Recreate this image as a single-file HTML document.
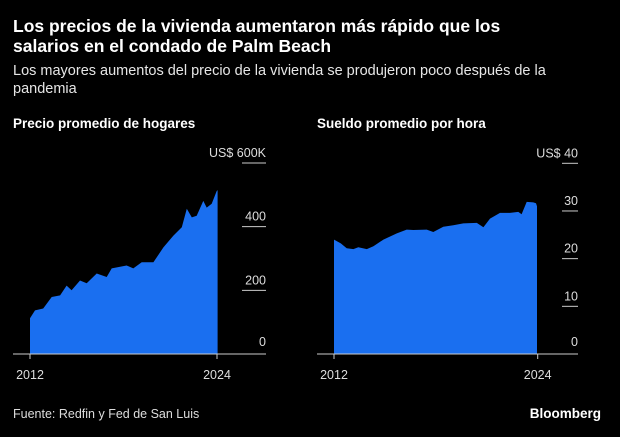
<!DOCTYPE html>
<html><head><meta charset="utf-8"><style>
body{margin:0;width:620px;height:437px;background:#000;overflow:hidden;font-family:"Liberation Sans",sans-serif;color:#fff}
.t{position:absolute;white-space:nowrap}
</style></head><body>
<div class="t" style="left:13px;top:16px;font-size:17.5px;font-weight:bold;line-height:20px">Los precios de la vivienda aumentaron más rápido que los<br>salarios en el condado de Palm Beach</div>
<div class="t" style="left:13px;top:62px;font-size:14.5px;line-height:18px;color:#e6e6e6">Los mayores aumentos del precio de la vivienda se produjeron poco después de la<br>pandemia</div>
<div class="t" style="left:13px;top:116px;font-size:13.5px;font-weight:bold">Precio promedio de hogares</div>
<div class="t" style="left:317px;top:116px;font-size:13.5px;font-weight:bold">Sueldo promedio por hora</div>
<div class="t" style="left:13px;top:407px;font-size:12.5px;color:#ddd">Fuente: Redfin y Fed de San Luis</div>
<div class="t" style="right:19px;top:406px;font-size:13.5px;font-weight:bold">Bloomberg</div>
<svg id="c" width="620" height="437" style="position:absolute;left:0;top:0"></svg>
<script>
const leftYears=[2012.0,2012.32,2012.85,2013.39,2013.93,2014.35,2014.67,2015.21,2015.64,2016.28,2016.92,2017.24,2018.2,2018.63,2019.17,2019.92,2020.56,2021.2,2021.74,2022.06,2022.38,2022.7,2023.12,2023.34,2023.66,2023.98,2024.04];
const leftValues=[112,137,143,179,184,215,200,231,222,253,242,269,278,269,288,288,335,372,398,456,429,434,481,460,472,512,515];
const leftTicks=[0,200,400,600];
const leftTickLabels=["0","200","400","US$ 600K"];
const rightYears=[2012.0,2012.4,2012.75,2013.14,2013.43,2013.93,2014.32,2014.91,2015.7,2016.28,2016.67,2017.46,2017.85,2018.44,2019.03,2019.62,2020.41,2020.8,2021.19,2021.78,2022.37,2022.86,2023.05,2023.35,2023.74,2023.9,2023.96];
const rightValues=[24.0,23.2,22.2,22.0,22.4,22.0,22.6,24.0,25.3,26.1,26.0,26.1,25.6,26.7,27.0,27.4,27.5,26.6,28.4,29.6,29.6,29.8,29.3,31.9,31.8,31.6,31.0];
const rightTicks=[0,10,20,30,40];
const rightTickLabels=["0","10","20","30","US$ 40"];
const xLabels=["2012","2024"];
const svg=document.getElementById('c');
const NS='http://www.w3.org/2000/svg';
function mk(t,a){const e=document.createElementNS(NS,t);for(const k in a)e.setAttribute(k,a[k]);svg.appendChild(e);return e;}
function panel(p,years,vals,ticks,labels,name){
  const x=y=>p.x0+(y-2012)*(p.x1-p.x0)/12;
  const y=v=>p.base-(v-ticks[0])*(p.base-p.top)/(ticks[ticks.length-1]-ticks[0]);
  let d='M'+x(years[0])+','+p.base;
  years.forEach((yr,i)=>{d+=' L'+x(yr).toFixed(1)+','+y(vals[i]).toFixed(1);});
  d+=' L'+x(years[years.length-1]).toFixed(1)+','+p.base+'Z';
  const a=mk('path',{d:d,fill:'#1a6ff0'});
  
  
  ticks.forEach((t,i)=>{
    if(i>0){const g=mk('line',{x1:p.tx0,x2:p.tx1,y1:y(t),y2:y(t),stroke:'#ccc','stroke-width':1});
    
    }
    const tx=mk('text',{x:p.tx1,y:y(t)-(i>0?6:8),'text-anchor':'end','font-size':12.5,fill:'#ddd','font-family':'Liberation Sans'});
    tx.textContent=labels[i];
    
    
  });
  const ax=mk('line',{x1:p.ax0,x2:p.tx1,y1:p.base,y2:p.base,stroke:'#ccc','stroke-width':1});
  
  
  [2012,2024].forEach((yr,i)=>{
    mk('line',{x1:x(yr),x2:x(yr),y1:p.base,y2:p.base+5,stroke:'#ccc'});
    const tx=mk('text',{x:x(yr),y:p.base+25,'text-anchor':'middle','font-size':12.5,fill:'#ddd','font-family':'Liberation Sans'});
    tx.textContent=xLabels[i];
    
    
  });
}
panel({x0:30,x1:217,base:354,top:163,tx0:242,tx1:266,ax0:13},leftYears,leftValues,leftTicks,leftTickLabels,'price');
panel({x0:334,x1:537.7,base:354,top:163.3,tx0:562,tx1:578,ax0:317},rightYears,rightValues,rightTicks,rightTickLabels,'wage');
</script>
</body></html>
